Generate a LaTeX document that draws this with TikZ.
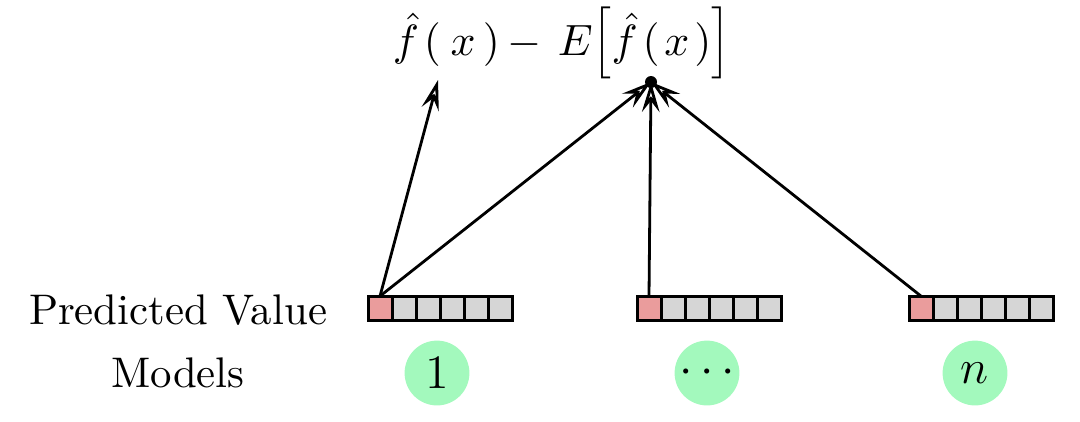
\documentclass[tikz,border=0pt]{standalone}
\usetikzlibrary{arrows.meta}
\definecolor{predpink}{HTML}{EA9C9C}
\definecolor{cellgray}{HTML}{D6D6D6}
\definecolor{modelgreen}{HTML}{A3F9BD}
\newcommand{\mybrk}[1]{\mbox{\fontsize{12.5}{14}\selectfont\nulldelimiterspace=0pt$\left#1\vrule height 10.7pt depth 4.5pt width 0pt\right.$}}
\begin{document}
\begin{tikzpicture}[x=0.25pt,y=-0.25pt,
  cell/.style={draw=black,line width=0.75pt,minimum width=6pt,minimum height=6.2pt,inner sep=0pt,outer sep=0pt,fill=cellgray},
  pcell/.style={cell,fill=predpink},
  model/.style={circle,fill=modelgreen,minimum size=16.2pt,inner sep=0pt,font=\fontsize{12.4}{14}\selectfont},
  lbl/.style={font=\fontsize{10.7}{13}\selectfont,inner sep=0pt},
  formula/.style={font=\fontsize{10.8}{13}\selectfont,inner sep=0pt,anchor=base west},
  arr/.style={line width=0.7pt,-{Stealth[open,length=7.5pt,width=4.4pt,inset=2.8pt]}}]
\useasboundingbox (0,0) rectangle (1080,421);
% strips
\foreach \s/\x in {a/380,b/649,c/921}{
  \node[pcell] (\s0) at (\x,308.5) {};
  \foreach \i [count=\j from 0] in {1,...,5}{
    \node[cell,anchor=west] (\s\i) at (\s\j.east) {};
  }
}
% models
\node[model] (m1) at (437,373) {$1$};
\node[model] (m2) at (707,373) {$\cdots$};
\node[model] (m3) at (975,373) {$n$};
\node[lbl] (pv) at (178,310) {Predicted Value};
\node[lbl] (ml) at (178,373) {Models};
% formula
\node[formula] (fx) at (392,55) {$\hat f\mkern2mu(\mkern4mu x\mkern3mu)\mkern3mu-$};
\node[formula] (ef) at (557,55) {$E\mybrk[\hat f\mkern2mu(\mkern2mu x\mkern2mu)\mybrk]$};
\fill (651,82) circle (1.5pt);
\coordinate (dot) at (651,82);
\coordinate (tipl) at (438,80);
\draw[arr] (a0.north) -- (tipl);
\draw[arr] (a0.north) -- (dot);
\draw[arr] (b0.north) -- (dot);
\draw[arr] (c0.north) -- (dot);
\end{tikzpicture}
\end{document}
